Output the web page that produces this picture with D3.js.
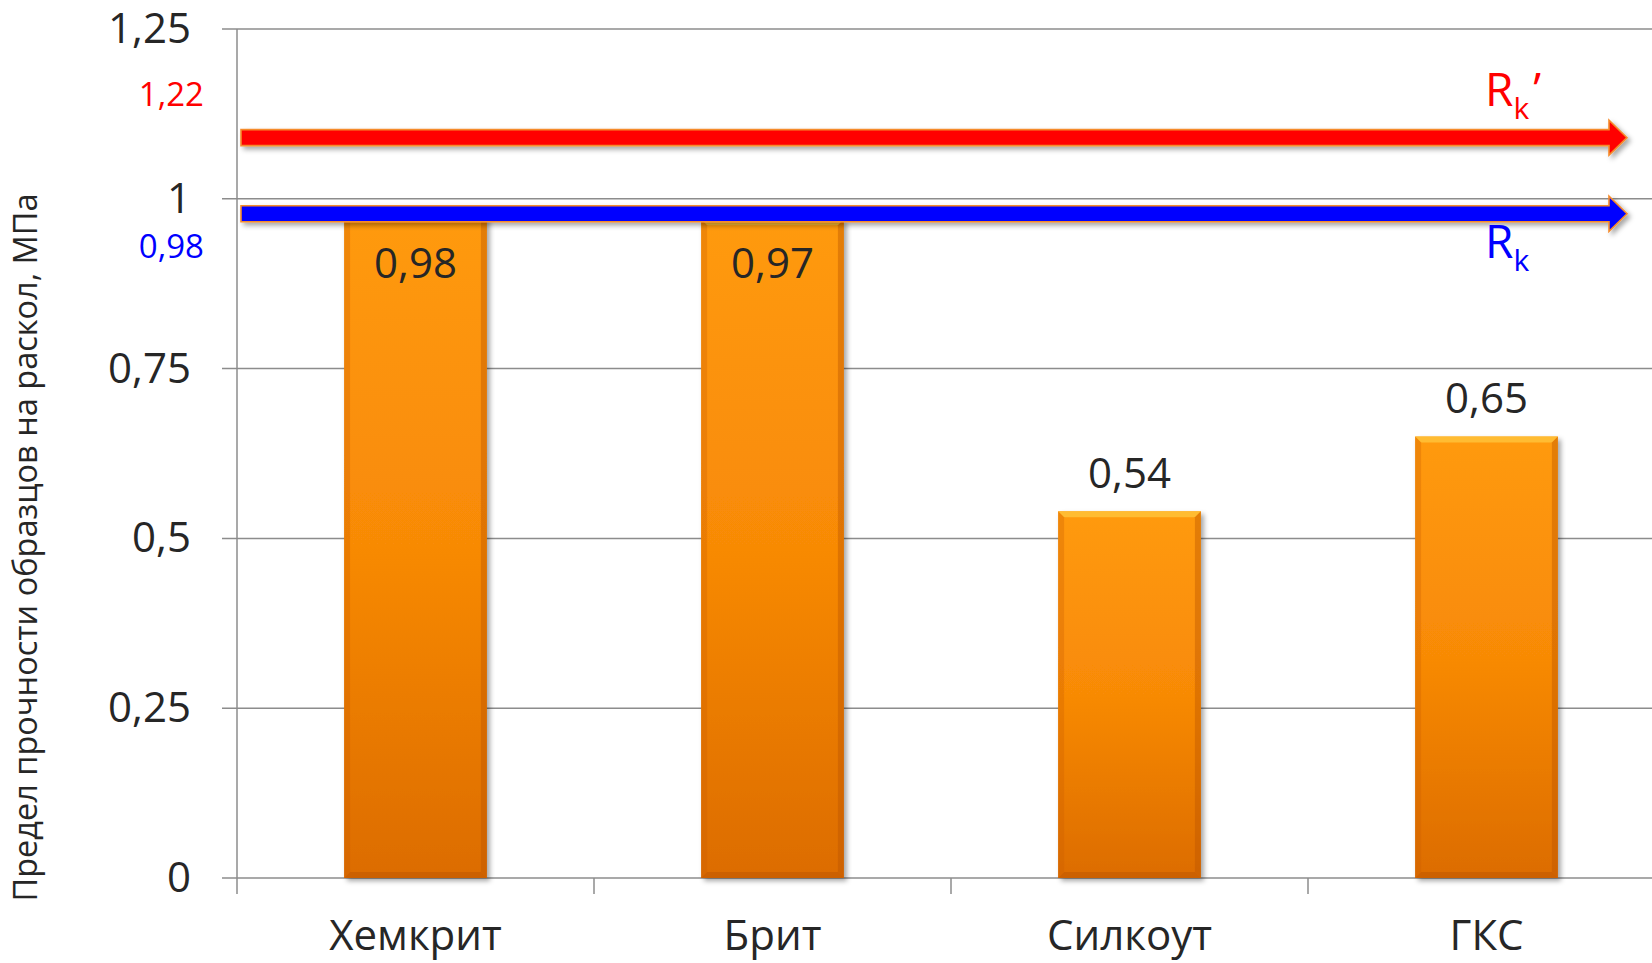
<!DOCTYPE html>
<html>
<head>
<meta charset="utf-8">
<script src="https://cdn.jsdelivr.net/npm/d3@7"></script>
<style>
  body { margin: 0; background: #fff; }
  svg { display: block; font-family: "Open Sans", "Noto Sans", sans-serif; }
</style>
</head>
<body>
<svg id="chart" width="1652" height="963"></svg>
<script>
// data
const categories = ["Хемкрит", "Брит", "Силкоут", "ГКС"]
const values = [0.98, 0.97, 0.54, 0.65]
const yTicks = [0, 0.25, 0.5, 0.75, 1, 1.25]
const refNames = ["R", "R"]
const refSubs = ["k", "k"]
const refPrimes = ["’", ""]
const refLevels = [1.09, 0.978]      // where the arrows are drawn
const refTexts = ["1,22", "0,98"]    // the numbers written at the axis
const refColors = ["#ff0000", "#0000ff"]

const svg = d3.select("#chart")
const W = 1652, H = 963
const mLeft = 237, mRight = 1665, mTop = 29, mBottom = 878

const ru = d3.formatLocale({ decimal: ",", thousands: " ", grouping: [3], currency: ["", ""] })
const fmt = ru.format("~g")

const y = d3.scaleLinear().domain([0, 1.25]).range([mBottom, mTop])
const x = d3.scaleBand().domain(categories).range([mLeft, mRight]).paddingInner(0.6).paddingOuter(0.3)
const xCat = d3.scaleBand().domain(categories).range([mLeft, mRight])

const defs = svg.append("defs")
const grad = defs.append("linearGradient").attr("id", "barGrad").attr("x1", 0).attr("y1", 0).attr("x2", 0).attr("y2", 1)
grad.append("stop").attr("offset", "0%").attr("stop-color", "#ff9a0c")
grad.append("stop").attr("offset", "50%").attr("stop-color", "#f88a06")
grad.append("stop").attr("offset", "100%").attr("stop-color", "#dc6c05")

const sh = defs.append("filter").attr("id", "shadow").attr("x", "-5%").attr("y", "-20%").attr("width", "110%").attr("height", "160%")
sh.append("feDropShadow").attr("dx", 3).attr("dy", 3).attr("stdDeviation", 2.5)
  .attr("flood-color", "#000").attr("flood-opacity", 0.35)

// gridlines
svg.append("g")
  .selectAll("line")
  .data(yTicks)
  .join("line")
    .attr("x1", mLeft - 15)
    .attr("x2", W)
    .attr("y1", d => y(d))
    .attr("y2", d => y(d))
    .attr("stroke", "#8c8c8c")
    .attr("stroke-width", 1.5)

// y axis
const yAxis = svg.append("g")
  .attr("transform", `translate(${mLeft},0)`)
  .call(d3.axisLeft(y).tickValues(yTicks).tickFormat(fmt).tickSize(0).tickPadding(46))
yAxis.select(".domain").attr("stroke", "#8c8c8c").attr("stroke-width", 1.5)
  .attr("d", `M0,${mTop}V${mBottom + 16}`)
yAxis.selectAll("text").attr("font-size", 42).attr("fill", "#262626").attr("font-family", "Open Sans")

// x category separators
svg.append("g")
  .selectAll("line")
  .data(categories.slice(1))
  .join("line")
    .attr("x1", d => xCat(d))
    .attr("x2", d => xCat(d))
    .attr("y1", mBottom)
    .attr("y2", mBottom + 16)
    .attr("stroke", "#8c8c8c")
    .attr("stroke-width", 1.5)

const xAxis = svg.append("g")
  .attr("transform", `translate(0,${mBottom})`)
  .call(d3.axisBottom(xCat).tickSize(0).tickPadding(42))
xAxis.select(".domain").remove()
xAxis.selectAll("text").attr("font-size", 42).attr("fill", "#262626").attr("font-family", "Open Sans")

// bars
const bars = svg.append("g")
  .selectAll("g")
  .data(values)
  .join("g")
    .attr("transform", (d, i) => `translate(${x(categories[i])},${y(d)})`)

bars.append("rect")
  .attr("width", x.bandwidth())
  .attr("height", d => mBottom - y(d))
  .attr("fill", "url(#barGrad)")
  .attr("filter", "url(#shadow)")

// bevel
const bw = x.bandwidth(), bv = 6
bars.append("path")
  .attr("d", `M0,0H${bw}L${bw - bv},${bv}H${bv}Z`)
  .attr("fill", "#ffc23a").attr("opacity", 0.85)
bars.append("path")
  .attr("d", d => `M0,0L${bv},${bv}V${mBottom - y(d) - bv}L0,${mBottom - y(d)}Z`)
  .attr("fill", "#c95e00").attr("opacity", 0.3)
bars.append("path")
  .attr("d", d => `M${bw},0L${bw - bv},${bv}V${mBottom - y(d) - bv}L${bw},${mBottom - y(d)}Z`)
  .attr("fill", "#b85200").attr("opacity", 0.4)
bars.append("path")
  .attr("d", d => `M0,${mBottom - y(d)}L${bv},${mBottom - y(d) - bv}H${bw - bv}L${bw},${mBottom - y(d)}Z`)
  .attr("fill", "#b85200").attr("opacity", 0.45)

// value labels (those under the arrows are moved below the lower arrow)
svg.append("g")
  .selectAll("text")
  .data(values)
  .join("text")
    .attr("x", (d, i) => x(categories[i]) + x.bandwidth() / 2)
    .attr("y", d => d > 0.9 ? y(refLevels[1]) + 50 : y(d) - 38)
    .attr("dy", "0.35em")
    .attr("text-anchor", "middle")
    .attr("font-size", 42)
    .attr("fill", "#262626")
    .text(d => fmt(d))

// reference arrows
const arrowStart = mLeft + 4, arrowEnd = 1627
const headLen = 18, shaftHalf = 8, headHalf = 17.5
const arrows = svg.append("g")
  .selectAll("g")
  .data(refLevels)
  .join("g")
arrows.append("path")
  .attr("d", d => {
    const cy = y(d)
    return `M${arrowStart},${cy - shaftHalf}H${arrowEnd - headLen}V${cy - headHalf}L${arrowEnd},${cy}` +
      `L${arrowEnd - headLen},${cy + headHalf}V${cy + shaftHalf}H${arrowStart}Z`
  })
  .attr("fill", (d, i) => refColors[i])
  .attr("stroke", "#f58b2c")
  .attr("stroke-width", 1.6)
  .attr("filter", "url(#shadow)")

// numbers at the axis
svg.append("g")
  .selectAll("text")
  .data(refLevels)
  .join("text")
    .attr("x", 204)
    .attr("y", (d, i) => i === 0 ? y(d) - 43 : y(d) + 33)
    .attr("dy", "0.35em")
    .attr("text-anchor", "end")
    .attr("font-size", 33)
    .attr("fill", (d, i) => refColors[i])
    .text((d, i) => refTexts[i])

// R_k labels
const rl = svg.append("g")
  .selectAll("text")
  .data(refLevels)
  .join("text")
    .attr("x", 1485)
    .attr("y", (d, i) => i === 0 ? y(d) - 32 : y(d) + 44)
    .attr("font-size", 46)
    .attr("fill", (d, i) => refColors[i])
rl.append("tspan").text((d, i) => refNames[i])
rl.append("tspan").attr("font-size", 30).attr("dy", 13).text((d, i) => refSubs[i])
rl.append("tspan").attr("dy", -13).attr("dx", 4).text((d, i) => refPrimes[i])

// y axis title
svg.append("text")
  .attr("transform", `translate(37,${(195 + 900) / 2}) rotate(-90)`)
  .attr("text-anchor", "middle")
  .attr("font-size", 32.5)
  .attr("fill", "#262626")
  .text("Предел прочности образцов на раскол, МПа")
</script>
</body>
</html>
